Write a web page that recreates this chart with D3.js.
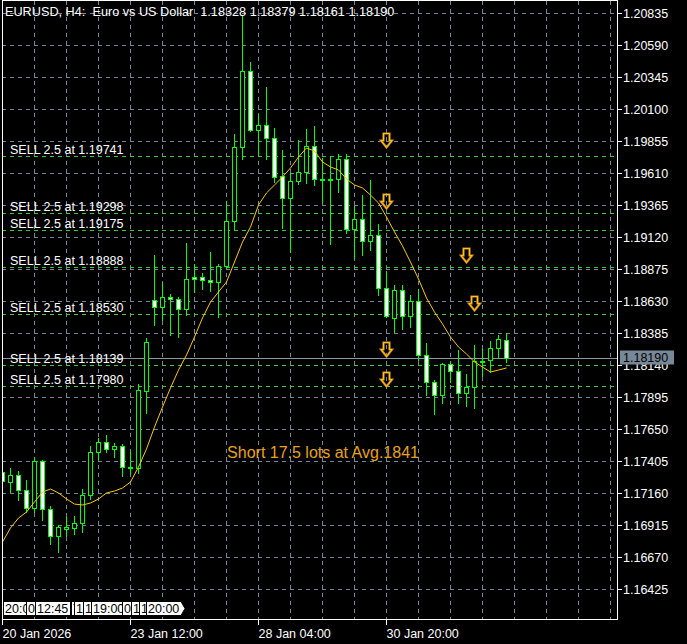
<!DOCTYPE html>
<html><head><meta charset="utf-8">
<script src="https://cdn.jsdelivr.net/npm/d3@7"></script>
<style>
html,body{margin:0;padding:0;background:#000;}
svg{display:block;}
text{font-family:"Liberation Sans",Arial,sans-serif;white-space:pre;}
</style></head><body>
<svg id="chart" width="687" height="644"></svg>
<script>
// EURUSD H4 candles, oldest first
const symbolTitle = "EURUSD, H4:  Euro vs US Dollar  1.18328 1.18379 1.18161 1.18190";
const opens = [1.17316,1.17244,1.17293,1.17178,1.17041,1.17400,1.17033,1.16826,1.16882,1.16887,
  1.16926,1.17140,1.17469,1.17546,1.17492,1.17515,1.17353,1.17347,1.17941,1.18633,
  1.18580,1.18656,1.18641,1.18564,1.18809,1.18809,1.18786,1.18771,1.18893,1.19240,
  1.19804,1.20386,1.19935,1.19973,1.19873,1.19582,1.19414,1.19544,1.19613,1.19812,
  1.19559,1.19560,1.19559,1.19713,1.19177,1.19253,1.19085,1.19131,1.18725,1.18495,
  1.18710,1.18511,1.18625,1.18212,1.18005,1.17906,1.18143,1.18089,1.17921,1.17967,
  1.18166,1.18174,1.18266,1.18328];
const highs = [1.17349,1.17347,1.17324,1.17257,1.17431,1.17410,1.17056,1.16910,1.16972,1.16979,
  1.17186,1.17515,1.17577,1.17600,1.17538,1.17531,1.17477,1.17992,1.18342,1.18980,
  1.18771,1.18679,1.18656,1.19069,1.18909,1.18840,1.19001,1.18909,1.19396,1.19904,
  1.20815,1.20455,1.20057,1.20264,1.19950,1.19782,1.19605,1.19858,1.19942,1.19965,
  1.19723,1.19728,1.19751,1.19751,1.19353,1.19437,1.19552,1.19215,1.18855,1.18748,
  1.18748,1.18671,1.18717,1.18304,1.18021,1.18151,1.18166,1.18250,1.18067,1.18289,
  1.18258,1.18319,1.18365,1.18379];
const lows = [1.17181,1.17163,1.17104,1.17010,1.17010,1.16949,1.16765,1.16704,1.16828,1.16842,
  1.16861,1.17109,1.17416,1.17469,1.17431,1.17286,1.17301,1.17309,1.17772,1.18444,
  1.18480,1.18365,1.18350,1.18518,1.18694,1.18717,1.18702,1.18503,1.18880,1.19179,
  1.19713,1.19927,1.19743,1.19713,1.19536,1.19187,1.19003,1.19521,1.19531,1.19516,
  1.19383,1.19062,1.19460,1.19146,1.18955,1.18982,1.19016,1.18671,1.18503,1.18388,
  1.18411,1.18426,1.18174,1.17906,1.17760,1.17849,1.18005,1.17849,1.17822,1.17806,
  1.18051,1.18082,1.18189,1.18161];
const closes = [1.17250,1.17293,1.17178,1.17041,1.17400,1.17033,1.16826,1.16895,1.16894,1.16926,
  1.17140,1.17469,1.17546,1.17492,1.17515,1.17355,1.17347,1.17946,1.18312,1.18580,
  1.18656,1.18641,1.18564,1.18794,1.18794,1.18786,1.18771,1.18893,1.19240,1.19804,
  1.20386,1.19935,1.19973,1.19873,1.19575,1.19414,1.19544,1.19613,1.19812,1.19559,
  1.19562,1.19559,1.19713,1.19177,1.19253,1.19085,1.19131,1.18725,1.18511,1.18710,
  1.18511,1.18625,1.18212,1.18005,1.17906,1.18143,1.18089,1.17921,1.17967,1.18166,
  1.18168,1.18266,1.18334,1.18190];
// moving average values per bar
const maValues = [1.16783,1.16890,1.16966,1.17012,1.17089,1.17165,1.17188,1.17158,1.17112,1.17073,
  1.17066,1.17081,1.17112,1.17158,1.17173,1.17196,1.17242,1.17357,1.17495,1.17663,
  1.17816,1.17962,1.18099,1.18214,1.18352,1.18498,1.18620,1.18697,1.18773,1.18926,
  1.19079,1.19194,1.19363,1.19455,1.19516,1.19577,1.19646,1.19730,1.19799,1.19776,
  1.19692,1.19654,1.19631,1.19562,1.19516,1.19493,1.19439,1.19378,1.19271,1.19156,
  1.19049,1.18926,1.18796,1.18651,1.18543,1.18452,1.18352,1.18276,1.18222,1.18161,
  1.18122,1.18084,1.18099,1.18115];
const priceTicks = ["1.20835","1.20590","1.20345","1.20100","1.19855","1.19610","1.19365","1.19120",
  "1.18875","1.18630","1.18385","1.18140","1.17895","1.17650","1.17405","1.17160","1.16915",
  "1.16670","1.16425"];
const timeTickBars = [0,16,32,48];
const timeTickLabels = ["20 Jan 2026","23 Jan 12:00","28 Jan 04:00","30 Jan 20:00"];
const sellPrices = [1.19741,1.19298,1.19175,1.18888,1.18530,1.18139,1.17980];
const sellLots = 2.5;
const arrowBars = [48,48,58,59,48,48];
const arrowPrices = [1.19860,1.19393,1.18980,1.18612,1.18260,1.18030];
const lastPrice = 1.18190;
const summaryText = "Short 17.5 lots at Avg.1841";
const timeTagBars = [0,3,4,8.5,9,10,11,15,16,17,18];
const timeTagTexts = ["20:00","0","12:45",")","1","1","19:00","0","1","1","20:00"];

const W = 687, H = 644;
const frame = {left: 2, right: 617, top: 1, bottom: 620};
const svg = d3.select("#chart");
svg.append("rect").attr("width", W).attr("height", H).attr("fill", "#000");

const x = d3.scaleLinear().domain([0, 63]).range([2.5, 506.5]);
const y = d3.scaleLinear().domain([1.16425, 1.20835]).range([588.7, 12.7]);
const py = v => Math.round(y(v)) + 0.5;

const defs = svg.append("defs");
defs.append("clipPath").attr("id", "plotclip")
  .append("rect").attr("x", frame.left).attr("y", frame.top)
  .attr("width", frame.right - frame.left).attr("height", frame.bottom - frame.top);
const plot = svg.append("g").attr("clip-path", "url(#plotclip)");

const gridColor = "#778899";
// horizontal grid at price ticks
plot.append("g").selectAll("line").data(priceTicks).join("line")
  .attr("x1", frame.left).attr("x2", frame.right)
  .attr("y1", d => py(+d)).attr("y2", d => py(+d))
  .attr("stroke", gridColor).attr("stroke-dasharray", "4,4");
// vertical grid every four bars
plot.append("g").selectAll("line").data(d3.range(4, 80, 4)).join("line")
  .attr("x1", d => x(d)).attr("x2", d => x(d))
  .attr("y1", frame.top).attr("y2", frame.bottom)
  .attr("stroke", gridColor).attr("stroke-dasharray", "4,4");

// sell level lines
plot.append("g").selectAll("line").data(sellPrices).join("line")
  .attr("x1", frame.left).attr("x2", frame.right)
  .attr("y1", d => py(d)).attr("y2", d => py(d))
  .attr("stroke", "#32cd32").attr("stroke-dasharray", "4,4");

// last price line
plot.append("line").attr("x1", frame.left).attr("x2", frame.right)
  .attr("y1", py(lastPrice)).attr("y2", py(lastPrice)).attr("stroke", "#8f9aa8");

// candles
const bars = d3.range(opens.length).map(i => ({i, o: opens[i], h: highs[i], l: lows[i], c: closes[i]}));
const cg = plot.append("g");
cg.selectAll("line").data(bars).join("line")
  .attr("x1", d => x(d.i)).attr("x2", d => x(d.i))
  .attr("y1", d => Math.round(y(d.h))).attr("y2", d => Math.round(y(d.l)) + 1)
  .attr("stroke", "#00ff00");
cg.selectAll("rect").data(bars).join("rect")
  .attr("x", d => x(d.i) - 2).attr("width", 4)
  .attr("y", d => py(Math.max(d.o, d.c)))
  .attr("height", d => Math.max(1, Math.round(y(Math.min(d.o, d.c))) - Math.round(y(Math.max(d.o, d.c)))))
  .attr("fill", d => d.c >= d.o ? "#000" : "#fff")
  .attr("stroke", "#00ff00");

// moving average
plot.append("path").datum(maValues)
  .attr("d", d3.line().x((d, i) => x(i)).y(d => y(d)))
  .attr("fill", "none").attr("stroke", "#ffc800").attr("stroke-width", 1);

// sell labels
plot.append("g").selectAll("text").data(sellPrices).join("text")
  .attr("x", 10).attr("y", d => py(d) - 2.5)
  .attr("fill", "#fff").attr("font-size", 12.5)
  .text(d => `SELL ${sellLots} at ${d.toFixed(5)}`);

// sell arrows
const arrowPath = (cx, cy) => `M${cx-3},${cy-7}H${cx+3}V${cy}H${cx+5.5}L${cx},${cy+7}L${cx-5.5},${cy}H${cx-3}Z`;
const arrows = arrowBars.map((b, k) => ({b, p: arrowPrices[k]}));
const ag = plot.append("g");
ag.selectAll("path.outer").data(arrows).join("path").attr("class", "outer")
  .attr("d", d => arrowPath(x(d.b), Math.round(y(d.p)) + 0.5))
  .attr("fill", "none").attr("stroke", "#d48a00").attr("stroke-width", 2.2).attr("stroke-linejoin", "miter");
ag.selectAll("path.inner").data(arrows).join("path").attr("class", "inner")
  .attr("d", d => arrowPath(x(d.b), Math.round(y(d.p)) + 0.5))
  .attr("fill", "none").attr("stroke", "#ffd040").attr("stroke-width", 0.8);

// position summary
plot.append("text").attr("x", 323).attr("y", 458).attr("text-anchor", "middle")
  .attr("fill", "#e8a317").attr("font-size", 16).text(summaryText);

// header
plot.append("text").attr("x", 5).attr("y", 16).attr("fill", "#fff").attr("font-size", 12.7).text(symbolTitle);

// time tags of vertical-line objects along the bottom edge; each tag is clipped by the next one
const tg = plot.append("g");
timeTagBars.forEach((b, k) => {
  const tx = Math.round(x(b));
  const last = k === timeTagBars.length - 1;
  const nextX = last ? null : Math.round(x(timeTagBars[k + 1]));
  const cid = "tagclip" + k;
  const t = tg.append("text").attr("x", tx + 2).attr("y", 613).attr("fill", "#000")
    .attr("font-size", 12.5).text(timeTagTexts[k]);
  const w = Math.ceil(t.node().getComputedTextLength()) + 3;
  const boxW = last ? w : Math.min(w, nextX - tx);
  defs.append("clipPath").attr("id", cid).append("rect")
    .attr("x", tx).attr("y", 600).attr("width", boxW + 1).attr("height", 17);
  t.attr("clip-path", `url(#${cid})`);
  if (last) {
    tg.insert("path", () => t.node())
      .attr("d", `M${tx + 0.5},601.5H${tx + boxW}L${tx + boxW + 4},608.5L${tx + boxW},615.5H${tx + 0.5}Z`)
      .attr("fill", "#fff").attr("stroke", "#000");
  } else {
    tg.insert("rect", () => t.node()).attr("x", tx + 0.5).attr("y", 601.5).attr("width", boxW).attr("height", 14)
      .attr("fill", "#fff").attr("stroke", "#000");
  }
});

// frame
svg.append("rect").attr("x", frame.left + 0.5).attr("y", frame.top - 0.5)
  .attr("width", frame.right - frame.left).attr("height", frame.bottom - frame.top)
  .attr("fill", "none").attr("stroke", "#fff");

// price axis
const ya = svg.append("g");
priceTicks.forEach(t => {
  const yy = py(+t);
  ya.append("line").attr("x1", frame.right).attr("x2", frame.right + 5).attr("y1", yy).attr("y2", yy).attr("stroke", "#fff");
  ya.append("text").attr("x", frame.right + 6).attr("y", yy + 4.5).attr("fill", "#fff").attr("font-size", 12.5).text(t);
});
// last price marker
const ly = py(lastPrice);
ya.append("rect").attr("x", 620).attr("y", ly - 8).attr("width", 54).attr("height", 14).attr("fill", "#778899");
ya.append("text").attr("x", 623).attr("y", ly + 3.5).attr("fill", "#000").attr("font-size", 12.5).text(lastPrice.toFixed(5));

// time axis
const xa = svg.append("g");
timeTickBars.forEach((b, k) => {
  const xx = x(b);
  xa.append("line").attr("x1", xx).attr("x2", xx).attr("y1", frame.bottom).attr("y2", frame.bottom + 5).attr("stroke", "#fff");
  xa.append("text").attr("x", xx).attr("y", 638).attr("fill", "#fff").attr("font-size", 12.5).text(timeTickLabels[k]);
});
</script></body></html>
